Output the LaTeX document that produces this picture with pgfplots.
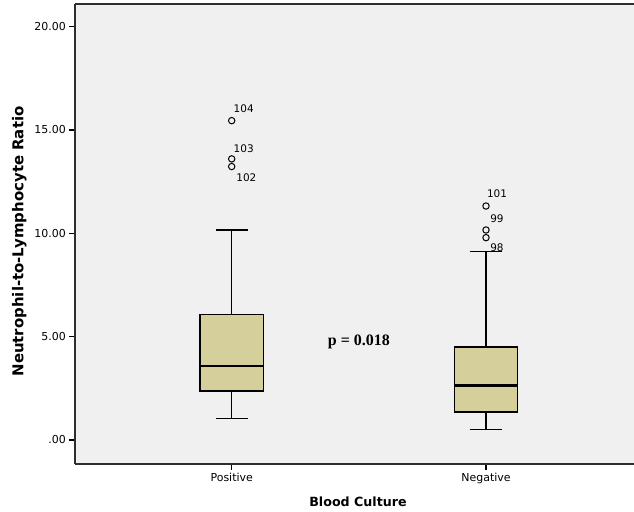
\documentclass[border=0pt]{standalone}
\usepackage{pgfplots}
\pgfplotsset{compat=1.18}
\usepgfplotslibrary{statistics}
\usepackage{fontspec}
\setmainfont{DejaVu Sans}
\newfontfamily\pfont{Liberation Serif}
\definecolor{boxfill}{HTML}{D4CF9B}
\definecolor{bgc}{HTML}{F0F0F0}
\definecolor{framec}{HTML}{2E2E2E}
\begin{document}
\begin{tikzpicture}
\begin{axis}[
  scale only axis, width=558.7bp, height=459.2bp,
  xmin=0.385, xmax=2.582, ymin=-1.147, ymax=21.07,
  axis x line*=box, axis y line*=left,
  axis background/.style={fill=bgc},
  axis line style={framec, line width=2bp},
  x axis line style={framec, line width=2bp},
  y axis line style={framec, line width=2bp},
  xtick={1,2}, xticklabels={Positive,Negative},
  ytick={0,5,10,15,20}, yticklabels={.00,5.00,10.00,15.00,20.00},
  tick align=outside, xtick pos=bottom, ytick pos=left,
  major tick length=6bp,
  tick style={black, line width=1.2bp},
  minor tick num=0,
  ticklabel style={font=\fontsize{11}{13}\selectfont},
  xlabel={Blood Culture},
  xlabel style={font=\bfseries\fontsize{12.7}{15}\selectfont, at={(rel axis cs:0.506,-0.0828)}, anchor=center},
  ylabel={Neutrophil-to-Lymphocyte Ratio},
  ylabel style={font=\bfseries\fontsize{15}{18}\selectfont, at={(rel axis cs:-0.1002,0.484)}, anchor=center},
  clip=false,
  boxplot/draw direction=y,
]
\addplot[boxplot prepared={median=3.58, upper quartile=6.08, lower quartile=2.37,
    upper whisker=10.16, lower whisker=1.05, draw position=1,
    box extend=0.25, whisker extend=0.127,
    every median/.style={line width=2.6bp}},
    draw=black, line width=1.4bp, fill=boxfill] coordinates {};
\addplot[boxplot prepared={median=2.63, upper quartile=4.5, lower quartile=1.35,
    upper whisker=9.11, lower whisker=0.52, draw position=2,
    box extend=0.25, whisker extend=0.127,
    every median/.style={line width=2.6bp}},
    draw=black, line width=1.4bp, fill=boxfill] coordinates {};
\addplot[only marks, mark=o, mark size=3.2bp, black, line width=1bp]
  coordinates {(1,15.45) (1,13.6) (1,13.23) (2,11.32) (2,10.16) (2,9.79)};
\begin{scope}[font=\fontsize{10.5}{12}\selectfont]
\node at ([shift={(12bp,11.7bp)}]axis cs:1,15.45) {104};
\node at ([shift={(12bp,10.7bp)}]axis cs:1,13.6) {103};
\node at ([shift={(14.7bp,-11bp)}]axis cs:1,13.23) {102};
\node at ([shift={(11bp,12bp)}]axis cs:2,11.32) {101};
\node at ([shift={(11bp,11bp)}]axis cs:2,10.16) {99};
\node at ([shift={(11bp,-10.3bp)}]axis cs:2,9.79) {98};
\end{scope}
\node[font=\pfont\bfseries\fontsize{16}{18}\selectfont] at (axis cs:1.5,4.74) {p = 0.018};
\coordinate (bl) at ([shift={(-75.3bp,-48.3bp)}]rel axis cs:0,0);
\coordinate (tr) at ([shift={(0bp,4.5bp)}]rel axis cs:1,1);
\end{axis}
\pgfresetboundingbox
\useasboundingbox (bl) rectangle (tr);
\end{tikzpicture}
\end{document}
